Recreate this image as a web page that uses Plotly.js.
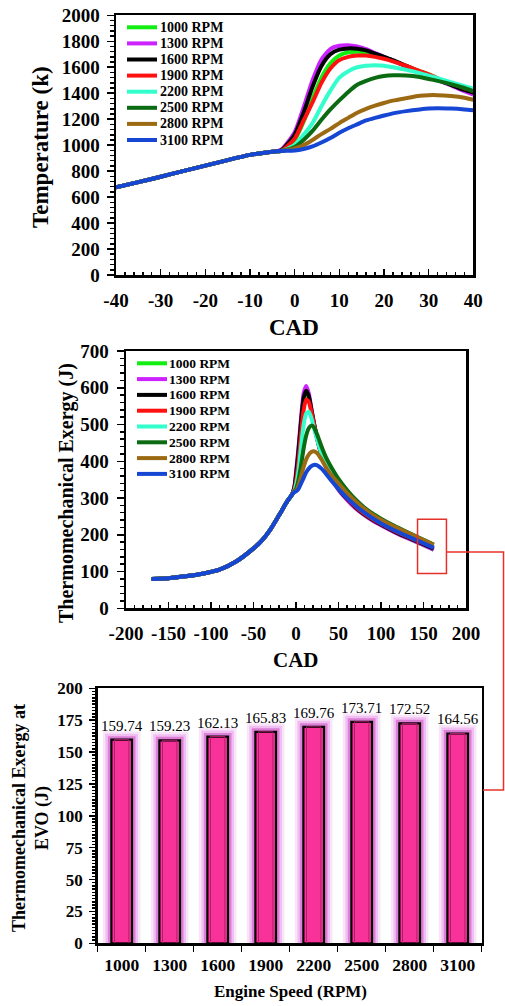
<!DOCTYPE html>
<html><head><meta charset="utf-8">
<script src="https://cdn.plot.ly/plotly-3.0.1.min.js"></script>
<style>html,body{margin:0;padding:0;background:#fff}#chart{width:505px;height:1006px}</style>
</head><body><div id="chart"></div>
<script>
// ---------- data ----------
const seriesNames = ['1000 RPM','1300 RPM','1600 RPM','1900 RPM','2200 RPM','2500 RPM','2800 RPM','3100 RPM'];
const seriesColors = ['#11ee11','#cc22ff','#000000','#ff1111','#33ffcc','#0b6b12','#9c6a12','#1646d4'];

// Temperature vs CAD
const cadCompression = [-40,-35,-30,-25,-20,-15,-10,-5];
const tempCompression = [675,715,757,800,842,885,925,950];
const cadCombustion = [-3,0,2,4,6,8,10,12,14,16,18,20,22,25,28,30,32,35,38,40];
const temp1000 = [955,1040,1180,1360,1520,1630,1690,1715,1720,1712,1695,1675,1650,1610,1570,1545,1515,1480,1450,1430];
const temp1300 = [965,1100,1290,1500,1660,1740,1765,1770,1760,1740,1710,1680,1650,1605,1560,1530,1500,1460,1415,1390];
const temp1600 = [960,1080,1250,1450,1610,1700,1735,1745,1742,1730,1705,1680,1655,1610,1565,1535,1505,1465,1425,1405];
const temp1900 = [955,1050,1190,1330,1480,1590,1655,1680,1690,1690,1680,1665,1645,1610,1570,1545,1515,1475,1440,1420];
const temp2200 = [955,1000,1080,1170,1300,1420,1520,1570,1600,1612,1615,1612,1600,1580,1555,1535,1515,1485,1455,1435];
const temp2500 = [955,985,1040,1110,1195,1275,1345,1410,1465,1495,1518,1532,1538,1537,1525,1510,1495,1470,1440,1415];
const temp2800 = [955,975,1000,1040,1085,1125,1170,1210,1250,1280,1305,1325,1343,1362,1380,1385,1385,1378,1365,1350];
const temp3100 = [955,958,970,990,1020,1055,1095,1130,1160,1190,1210,1228,1245,1262,1275,1282,1285,1282,1275,1268];
const tempSeries = [temp1000,temp1300,temp1600,temp1900,temp2200,temp2500,temp2800,temp3100];
const tempXTicks = [-40,-30,-20,-10,0,10,20,30,40];
const tempXTickText = ['-40','-30','-20','-10','0','10','20','30','40'];

// Thermomechanical exergy vs CAD
const cadExCompression = [-170,-150,-130,-110,-90,-70,-50,-40,-30,-20,-10,-5];
const exCompression = [80,82,87,94,105,128,163,185,215,253,292,308];
const cadExCombustion = [-2,0,3,6,9,12,15,18,21,25,30,35,40,50,60,70,80,90,100,115,130,145,162];
const ex1000 = [325,355,420,500,565,585,572,538,502,460,417,387,362,324,297,274,255,240,227,209,193,177,159.74];
const ex1300 = [330,370,440,520,585,605,585,545,505,460,415,385,360,322,295,272,254,239,226,208,192,177,159.23];
const ex1600 = [328,362,430,510,572,592,578,542,505,462,418,388,363,325,298,275,256,241,228,210,194,179,162.13];
const ex1900 = [322,345,400,475,540,568,562,535,502,462,420,390,365,328,300,277,258,243,230,212,196,181,165.83];
const ex2200 = [320,335,375,440,500,530,535,518,492,458,420,392,368,332,304,281,262,246,233,215,199,184,169.76];
const ex2500 = [318,325,350,390,435,470,490,497,493,472,440,412,390,352,322,296,275,258,244,225,208,192,173.71];
const ex2800 = [318,320,335,360,385,405,418,425,427,422,405,385,367,340,314,291,271,255,241,223,207,191,172.52];
const ex3100 = [316,318,325,340,355,370,380,387,390,389,380,367,352,325,300,279,261,245,231,213,197,182,164.56];
const exSeries = [ex1000,ex1300,ex1600,ex1900,ex2200,ex2500,ex2800,ex3100];
const exXTicks = [-200,-150,-100,-50,0,50,100,150,200];
const exXTickText = ['-200','-150','-100','-50','0','50','100','150','200'];

// Exergy at EVO
const engineSpeeds = ['1000','1300','1600','1900','2200','2500','2800','3100'];
const exergyEVO = [159.74,159.23,162.13,165.83,169.76,173.71,172.52,164.56];

// ---------- layout helpers ----------
const W = 505, H = 1006;
const px = x => x / W;
const py = y => 1 - y / H;
const FONT = 'Liberation Serif';
const bold = (size) => ({family: FONT, size: size, color: '#000', weight: 'bold'});

const traces = [];
seriesNames.forEach((name, i) => {
  traces.push({
    type: 'scatter', mode: 'lines', name: name, showlegend: false,
    x: cadCompression.concat(cadCombustion),
    y: tempCompression.concat(tempSeries[i]),
    line: {color: seriesColors[i], width: 4, shape: 'spline', smoothing: 0.6},
    xaxis: 'x', yaxis: 'y', hoverinfo: 'skip'
  });
});
seriesNames.forEach((name, i) => {
  traces.push({
    type: 'scatter', mode: 'lines', name: name, showlegend: false,
    x: cadExCompression.concat(cadExCombustion),
    y: exCompression.concat(exSeries[i]),
    line: {color: seriesColors[i], width: 4, shape: 'spline', smoothing: 0.6},
    xaxis: 'x2', yaxis: 'y2', hoverinfo: 'skip'
  });
});
// bar glow layers (soft halo, outermost first)
const glowLayers = [
  {w: 17, c: 'rgba(248,225,248,0.85)'},
  {w: 12, c: 'rgba(238,180,238,0.8)'},
  {w: 7,  c: 'rgba(215,105,205,0.75)'}
];
glowLayers.forEach(g => {
  traces.push({type:'bar', x: engineSpeeds, y: exergyEVO, width: 0.43, xaxis:'x3', yaxis:'y3', showlegend:false,
    marker:{color:'rgba(0,0,0,0)', line:{color:g.c, width:g.w}}, hoverinfo:'skip'});
});
traces.push({type:'bar', x: engineSpeeds, y: exergyEVO, width: 0.43, xaxis:'x3', yaxis:'y3', showlegend:false,
  marker:{color:'#f7339a', line:{color:'#000', width:2.2}}, hoverinfo:'skip'});
traces.push({type:'bar', x: engineSpeeds, y: exergyEVO, width: 0.30, xaxis:'x3', yaxis:'y3', showlegend:false,
  marker:{color:'rgba(0,0,0,0)', line:{color:'#b31d6c', width:1}}, hoverinfo:'skip'});

const annotations = [];
const shapes = [];
// custom legends
seriesNames.forEach((name, i) => {
  const y1 = 27.3 + 16.1 * i;
  shapes.push({type:'line', xref:'paper', yref:'paper', x0:px(127), x1:px(157), y0:py(y1), y1:py(y1),
    line:{color:seriesColors[i], width:4}});
  annotations.push({xref:'paper', yref:'paper', x:px(158), y:py(y1), xanchor:'left', yanchor:'middle',
    text:name, showarrow:false, font:bold(14)});
  const y2 = 363.3 + 15.8 * i;
  shapes.push({type:'line', xref:'paper', yref:'paper', x0:px(137), x1:px(167), y0:py(y2), y1:py(y2),
    line:{color:seriesColors[i], width:4}});
  annotations.push({xref:'paper', yref:'paper', x:px(167), y:py(y2), xanchor:'left', yanchor:'middle',
    text:name, showarrow:false, font:bold(13.5)});
});
// bar value labels (x given as category index)
engineSpeeds.forEach((s, i) => {
  annotations.push({xref:'x3', yref:'y3', x:i, y:exergyEVO[i], yshift:14, xanchor:'center', yanchor:'middle',
    text: exergyEVO[i].toFixed(2), showarrow:false, font:{family:FONT, size:15, color:'#000'}});
});
// axis titles
annotations.push({xref:'paper', yref:'paper', x:px(40), y:py(147), text:'Temperature (k)', textangle:-90,
  showarrow:false, xanchor:'center', yanchor:'middle', font:bold(23)});
annotations.push({xref:'paper', yref:'paper', x:px(294), y:py(327), text:'CAD',
  showarrow:false, xanchor:'center', yanchor:'middle', font:bold(23)});
annotations.push({xref:'paper', yref:'paper', x:px(66), y:py(493), text:'Thermomechanical Exergy (J)', textangle:-90,
  showarrow:false, xanchor:'center', yanchor:'middle', font:bold(20)});
annotations.push({xref:'paper', yref:'paper', x:px(296), y:py(660), text:'CAD',
  showarrow:false, xanchor:'center', yanchor:'middle', font:bold(21)});
annotations.push({xref:'paper', yref:'paper', x:px(31), y:py(818), text:'Thermomechanical Exergy at<br>EVO (J)', textangle:-90,
  showarrow:false, xanchor:'center', yanchor:'middle', font:bold(18)});
annotations.push({xref:'paper', yref:'paper', x:px(290), y:py(991), text:'Engine Speed (RPM)',
  showarrow:false, xanchor:'center', yanchor:'middle', font:bold(17)});

// red zoom box and connector
shapes.push({type:'rect', xref:'x2', yref:'y2', x0:143, x1:177, y0:95, y1:242,
  line:{color:'#e8302a', width:1.5}});
shapes.push({type:'path', xref:'paper', yref:'paper',
  path:`M ${px(446)} ${py(552)} L ${px(503.5)} ${py(552)} L ${px(503.5)} ${py(790)} L ${px(483)} ${py(790)}`,
  line:{color:'#e8302a', width:1.5}});

const axBase = {showline:true, mirror:true, linecolor:'#000', linewidth:2.5, showgrid:false, zeroline:false,
  tickcolor:'#000', tickwidth:1.5};

const layout = {
  width: W, height: H, margin:{l:0,r:0,t:0,b:0}, paper_bgcolor:'#fff', plot_bgcolor:'#fff',
  showlegend:false, font:{family:FONT, color:'#000'},
  xaxis: Object.assign({}, axBase, {domain:[px(116), px(473.3)], anchor:'y', range:[-40,40],
    tickmode:'array', tickvals:tempXTicks, ticktext:tempXTickText, ticks:'inside', ticklen:6,
    minor:{dtick:2, ticks:'inside', ticklen:3, tickcolor:'#000'}, tickfont:bold(19), ticklabelstandoff:7}),
  yaxis: Object.assign({}, axBase, {domain:[py(275), py(15.3)], anchor:'x', range:[0,2000], dtick:200,
    ticks:'outside', ticklen:7, minor:{dtick:40, ticks:'outside', ticklen:4, tickcolor:'#000'}, tickfont:bold(19), ticklabelstandoff:3}),
  xaxis2: Object.assign({}, axBase, {domain:[px(126), px(466)], anchor:'y2', range:[-200,200],
    tickmode:'array', tickvals:exXTicks, ticktext:exXTickText, ticks:'inside', ticklen:6,
    minor:{dtick:10, ticks:'inside', ticklen:3, tickcolor:'#000'}, tickfont:bold(19), ticklabelstandoff:6}),
  yaxis2: Object.assign({}, axBase, {domain:[py(608.3), py(351)], anchor:'x2', range:[0,700], dtick:100,
    ticks:'outside', ticklen:7, minor:{dtick:20, ticks:'outside', ticklen:4, tickcolor:'#000'}, tickfont:bold(19), ticklabelstandoff:4}),
  xaxis3: Object.assign({}, axBase, {domain:[px(97.7), px(481.7)], anchor:'y3', type:'category', range:[-0.5,7.5],
    tickson:'boundaries', ticks:'outside', ticklen:6, tickfont:bold(17.5), ticklabelstandoff:4}),
  yaxis3: Object.assign({}, axBase, {domain:[py(943.3), py(688.3)], anchor:'x3', range:[0,200], dtick:25,
    ticks:'outside', ticklen:6, minor:{dtick:2.5, ticks:'outside', ticklen:3, tickcolor:'#000'}, tickfont:bold(17), ticklabelstandoff:3}),
  barmode:'overlay', bargap:0.57,
  shapes: shapes, annotations: annotations
};

Plotly.newPlot('chart', traces, layout, {staticPlot:true, displayModeBar:false});
</script>
</body></html>
